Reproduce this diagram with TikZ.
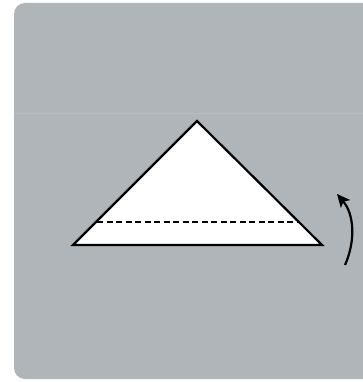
\documentclass[tikz,border=0pt]{standalone}
\usetikzlibrary{arrows.meta}
\definecolor{panel}{RGB}{175,181,184}
\definecolor{seam}{RGB}{183,189,192}
\begin{document}
\begin{tikzpicture}[x=1pt,y=-1pt,
  paper/.style={fill=white,draw=black,line width=2.2pt,line join=miter},
  foldline/.style={draw=black,line width=2pt,dash pattern=on 6pt off 3.5pt},
  turnarrow/.style={draw=black,line width=2.2pt,-{Stealth[length=13pt,width=12pt,inset=3pt]}}]
\useasboundingbox (0,0) rectangle (363,382);
\fill[panel,rounded corners=11pt] (14,3) rectangle (380,379);
\draw[seam,line width=0.6pt] (14,113) -- (363,113);
\coordinate (apex) at (197,121);
\coordinate (bl) at (73,245);
\coordinate (br) at (322,245);
\path[paper] (apex) -- (br) -- (bl) -- cycle;
\coordinate (dl) at (97,222);
\coordinate (dr) at (297,222);
\draw[foldline] (dl) -- (dr);
\coordinate (as) at (345,265);
\coordinate (ae) at (337,194);
\draw[turnarrow] (as) .. controls (356,240) and (354,214) .. (ae);
\end{tikzpicture}
\end{document}
